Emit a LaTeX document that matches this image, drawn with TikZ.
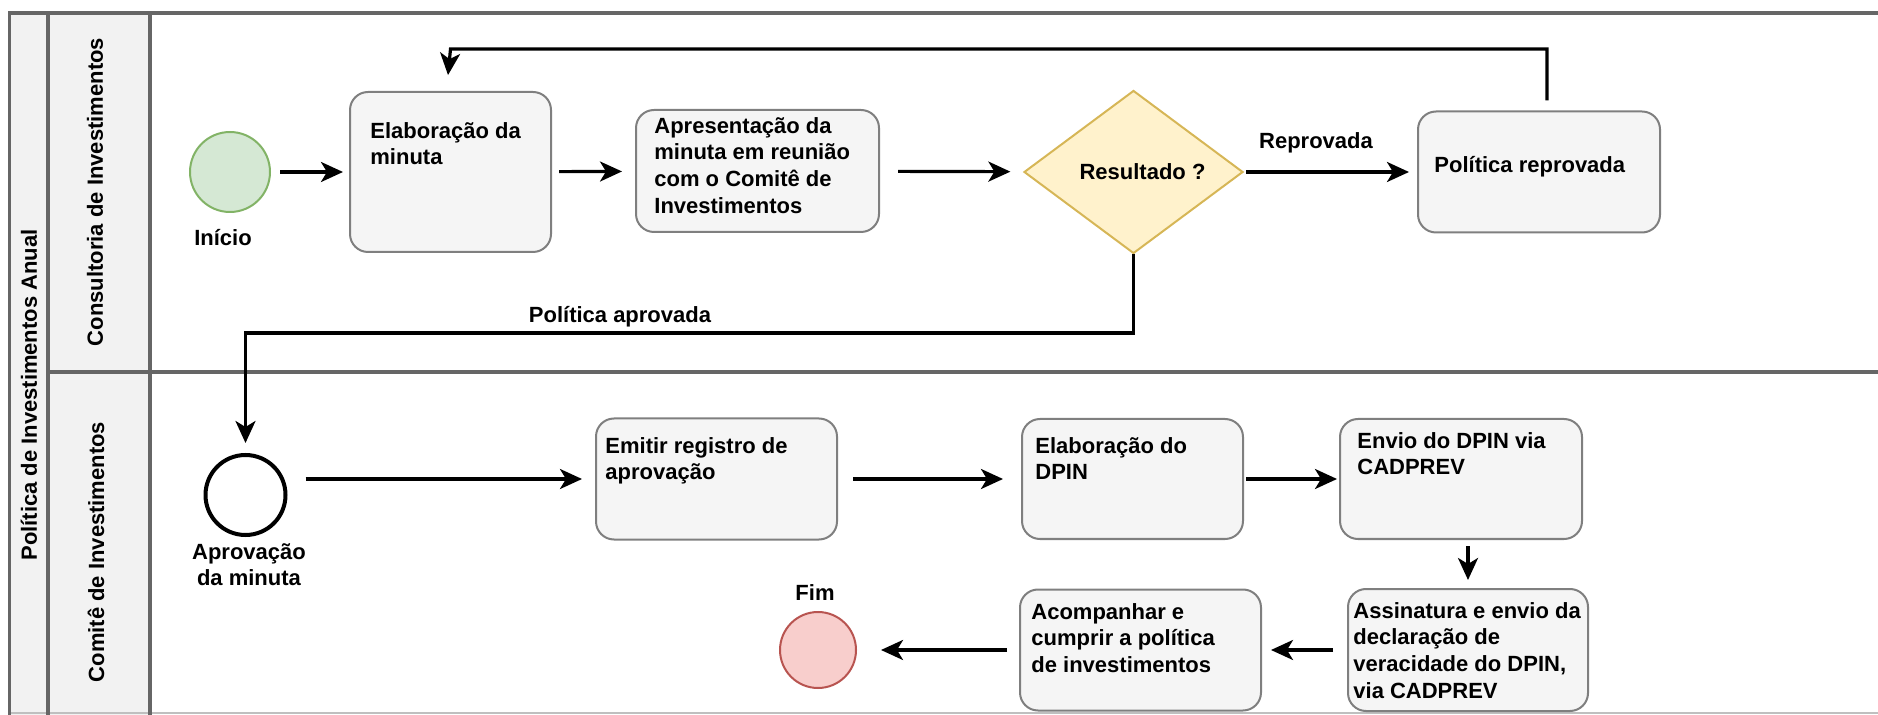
\documentclass[tikz,border=0pt]{standalone}
\usepackage{fontspec}
\setmainfont{Liberation Sans}
\usetikzlibrary{arrows.meta,shapes.geometric}

\definecolor{startfill}{HTML}{D5E8D4}
\definecolor{startline}{HTML}{82B366}
\definecolor{endfill}{HTML}{F8CECC}
\definecolor{endline}{HTML}{B85450}
\definecolor{decfill}{HTML}{FFF2CC}
\definecolor{decline}{HTML}{D6B656}
\definecolor{taskfill}{HTML}{F5F5F5}
\definecolor{taskline}{HTML}{7F7F7F}

\tikzset{
  every node/.append style={font=\fontsize{11pt}{13.3pt}\selectfont\bfseries},
  lane/.style={draw=black!60, line width=1.6pt},
  task/.style={draw=taskline, fill=taskfill, line width=1pt, rounded corners=9pt, inner sep=0pt},
  % text placed by the baseline of its first line
  tasktext/.style={anchor=north west, yshift=10pt, align=left, inner sep=0pt,
                   execute at begin node=\rule{0pt}{10pt}},
  event/.style={circle, minimum size=40pt, inner sep=0pt, line width=1pt},
  tag/.style={anchor=north, yshift=10pt, align=center, inner sep=0pt,
              execute at begin node=\rule{0pt}{10pt}},
  flow/.style={line width=1.6pt, -{Stealth[length=11pt,width=10pt,inset=3pt]}},
}

\begin{document}
\begin{tikzpicture}[x=0.5pt,y=-0.5pt]
    \useasboundingbox (0,0) rectangle (1878,715);
    % pool and lanes
    \fill [black!5] (9.5,13) rectangle (150,715);
    \draw [black!25, line width=1pt] (9.5,713) -- (1878,713);
    \draw [lane] (1878,13) -- (9.5,13) -- (9.5,715);
    \draw [lane] (48,13) -- (48,715);
    \draw [lane] (150,13) -- (150,715);
    \draw [lane] (48,372) -- (1878,372);
    \node [rotate=90] (pool-title) at (29,395) {Política de Investimentos Anual};
    \node [rotate=90] (lane1-title) at (95,192) {Consultoria de Investimentos};
    \node [rotate=90] (lane2-title) at (96,552) {Comitê de Investimentos};

    % Consultoria de Investimentos
    \node [event, draw=startline, fill=startfill] (inicio) at (230,172) {};
    \node [tag] (inicio-lbl) at (223,245) {Início};
    \node [task, minimum width=100.5pt, minimum height=80pt] (elab) at (450.5,172) {};
    \node [tasktext] (elab-txt) at (370,142) {Elaboração da\\minuta};
    \node [task, minimum width=121.5pt, minimum height=61pt] (apres) at (757.5,171) {};
    \node [tasktext] (apres-txt) at (654,137) {Apresentação da\\minuta em reunião\\com o Comitê de\\Investimentos};
    \node [diamond, draw=decline, fill=decfill, line width=1pt, minimum width=109.5pt,
           minimum height=81.5pt, inner sep=0pt] (res) at (1133.5,172) {\hspace{9pt}Resultado ?};
    \node [task, minimum width=121pt, minimum height=60.5pt] (reprov) at (1539,172) {};
    \node [tasktext] (reprov-txt) at (1434,172) {Política reprovada};
    \node [tag] (reprov-lbl) at (1316,148) {Reprovada};
    \coordinate (loop-top) at (0,49);
    \coordinate (aprov-turn) at (0,333);
    \node [tag] (aprov-path-lbl) at (620,322) {Política aprovada};

    % Comite de Investimentos
    \node [event, draw=black, line width=2pt, fill=white] (aprov) at (245.5,495) {};
    \node [tag] (aprov-lbl) at (249,563) {Aprovação\\da minuta};
    \node [task, minimum width=120.5pt, minimum height=60.5pt] (emitir) at (716.5,479) {};
    \node [tasktext] (emitir-txt) at (605,457) {Emitir registro de\\aprovação};
    \node [task, minimum width=110.5pt, minimum height=60pt] (dpin) at (1132.5,479) {};
    \node [tasktext] (dpin-txt) at (1035,457) {Elaboração do\\DPIN};
    \node [task, minimum width=121pt, minimum height=60pt] (envio) at (1461,479) {};
    \node [tasktext] (envio-txt) at (1357,452) {Envio do DPIN via\\CADPREV};
    \node [task, minimum width=120pt, minimum height=61pt] (assin) at (1468,650) {};
    \node [tasktext] (assin-txt) at (1353,622) {Assinatura e envio da\\declaração de\\veracidade do DPIN,\\via CADPREV};
    \node [task, minimum width=120.5pt, minimum height=60.5pt] (acomp) at (1140.5,650) {};
    \node [tasktext] (acomp-txt) at (1031,623) {Acompanhar e\\cumprir a política\\de investimentos};
    \node [event, draw=endline, fill=endfill, minimum size=38pt] (fim) at (818,650) {};
    \node [tag] (fim-lbl) at (815,600) {Fim};

    % connectors
    \foreach \a/\b/\s/\e in {inicio/elab/4.5pt/3pt, elab/apres/3.5pt/6.5pt, apres/res/9pt/6.5pt,
                             res/reprov/1pt/4pt, emitir/dpin/7.5pt/9pt, dpin/envio/1pt/1pt,
                             assin/acomp/7pt/4.5pt, acomp/fim/6pt/12pt}
        \draw [flow, shorten <=\s, shorten >=\e] (\a) -- (\b);
    \draw [flow, shorten <=9pt, shorten >=6.5pt] (aprov.east |- emitir.west) -- (emitir.west);
    \draw [flow, shorten <=3pt, shorten >=4pt] (envio.south -| assin.north) -- (assin.north);
    \draw [flow, shorten <=5pt, shorten >=8pt] ([xshift=4pt]reprov.north) |- (loop-top -| elab.north)
        -- ([xshift=-2pt]elab.north);
    \draw [flow, shorten >=5pt] (res.south) |- (aprov-turn -| aprov.north) -- (aprov.north);
\end{tikzpicture}
\end{document}
